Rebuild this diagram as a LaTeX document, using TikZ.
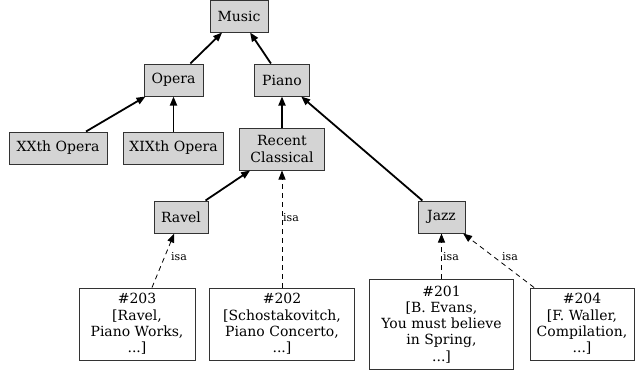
\documentclass[tikz,border=0pt]{standalone}
\usepackage{fontspec}
\setmainfont{DejaVu Serif}
\usetikzlibrary{arrows.meta}
\begin{document}
\begin{tikzpicture}[x=1pt,y=-1pt,
  cls/.style={draw=black!80,line width=1pt,fill=black!17,inner sep=0pt,
    font=\fontsize{14}{16.2}\selectfont,align=center},
  inst/.style={draw=black!80,line width=1pt,fill=white,inner sep=0pt,
    font=\fontsize{14}{16.2}\selectfont,align=center},
  sub/.style={line width=1.8pt,-{Triangle[length=9pt,width=7pt]}},
  isa/.style={line width=0.8pt,dash pattern=on 5pt off 4pt,-{Triangle[length=9pt,width=7pt]}},
  lbl/.style={font=\fontsize{11}{13}\selectfont,inner sep=0pt}]
\useasboundingbox (0,0) rectangle (635,370);
\node[cls,minimum width=58pt,minimum height=32pt] (music) at (239,16) {Music};
\node[cls,minimum width=59pt,minimum height=32pt] (opera) at (173.5,80) {Opera};
\node[cls,minimum width=55pt,minimum height=32pt] (piano) at (282,80) {Piano};
\node[cls,minimum width=98pt,minimum height=32pt] (xx) at (58,148) {XXth Opera};
\node[cls,minimum width=100pt,minimum height=32pt] (xix) at (173.5,148) {XIXth Opera};
\node[cls,minimum width=85pt,minimum height=42pt] (rc) at (282,149) {Recent\\Classical};
\node[cls,minimum width=54pt,minimum height=32pt] (ravel) at (181,217) {Ravel};
\node[cls,minimum width=47pt,minimum height=32pt] (jazz) at (441.5,217) {Jazz};
\node[inst,minimum width=116pt,minimum height=72pt] (i203) at (137,324) {\#203\\ {[}Ravel,\\Piano Works,\\...{]}};
\node[inst,minimum width=145pt,minimum height=72pt] (i202) at (282,324) {\#202\\ {[}Schostakovitch,\\Piano Concerto,\\...{]}};
\node[inst,minimum width=144pt,minimum height=90pt] (i201) at (441.5,324.5) {\#201\\ {[}B. Evans,\\You must believe\\in Spring,\\...{]}};
\node[inst,minimum width=104pt,minimum height=72pt] (i204) at (582,324) {\#204\\ {[}F. Waller,\\Compilation,\\...{]}};
\draw[sub] (opera) -- (music);
\draw[sub] (piano) -- (music);
\draw[sub] (xx) -- (opera);
\draw[sub] (xix) -- (opera);
\draw[sub] (rc) -- (piano);
\draw[sub] (jazz) -- (piano);
\draw[sub] (ravel) -- (rc);
\draw[isa] (i203) -- (ravel);
\draw[isa] (i202) -- (rc);
\draw[isa] (i201) -- (jazz);
\draw[isa] (i204) -- (jazz);
\node[lbl] (l203) at (179,257) {isa};
\node[lbl] (l202) at (291,218) {isa};
\node[lbl] (l201) at (451,257) {isa};
\node[lbl] (l204) at (510,257) {isa};
\end{tikzpicture}
\end{document}
